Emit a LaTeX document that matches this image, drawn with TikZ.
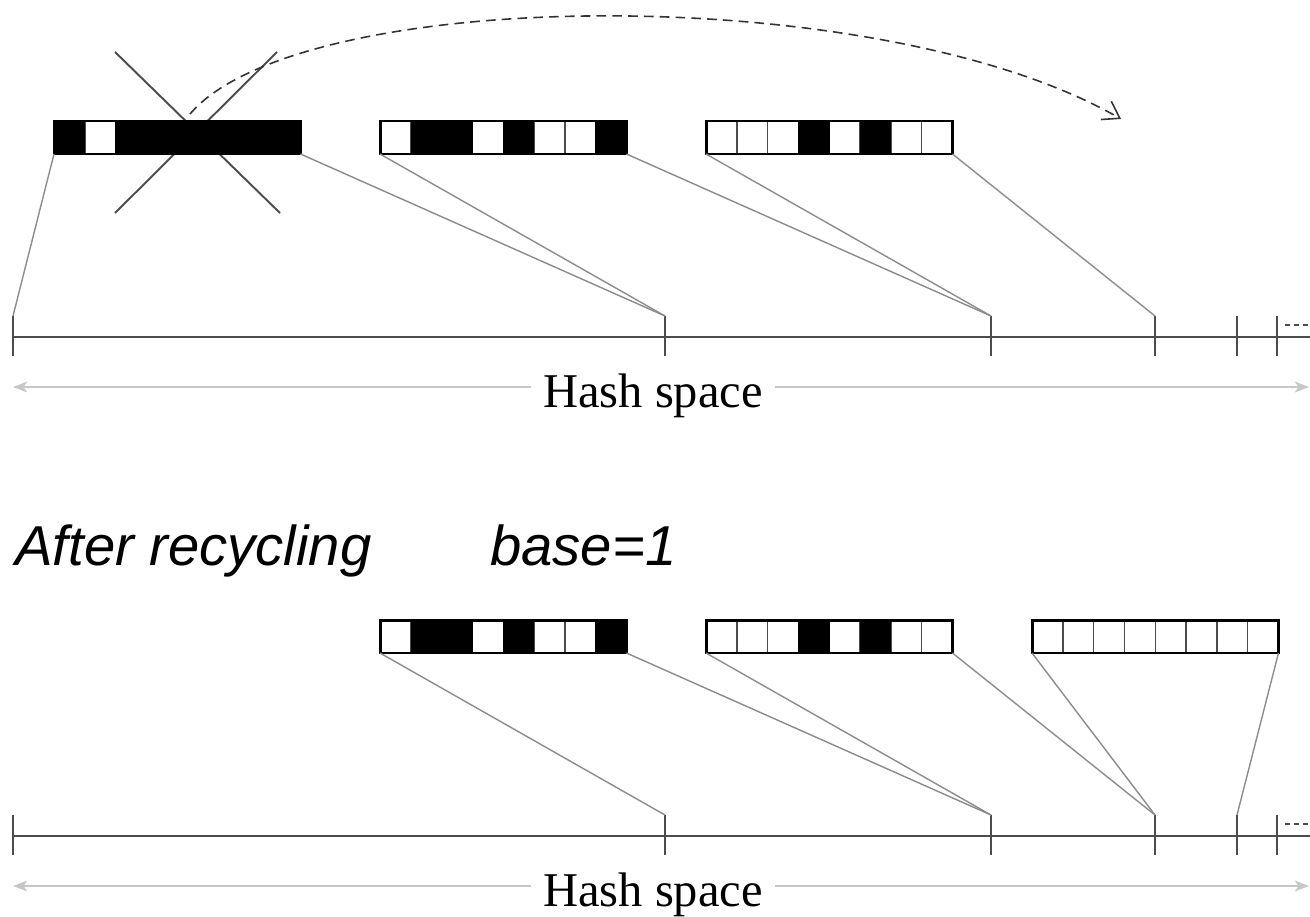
\documentclass[tikz,border=0pt]{standalone}
\usepackage{fontspec}
\setmainfont{Liberation Serif}
\setsansfont{Liberation Sans}
\usetikzlibrary{arrows.meta}

\tikzset{
  cellbox/.style={draw=black!70, line width=0.8pt},
  bitframe/.style={draw=black, line width=1.7pt, inner sep=0pt, outer sep=0pt,
                   minimum width=4.93cm, minimum height=0.66cm},
  link/.style={draw=black!45, line width=0.8pt},
  hashaxis/.style={draw=black!70, line width=1.1pt},
  tickmark/.style={draw=black!70, line width=1.1pt},
  moredots/.style={draw=black!70, line width=1.1pt, dash pattern=on 3pt off 2pt},
  spanarrow/.style={draw=black!22, line width=1.4pt,
                    {Stealth[length=8pt,width=6pt,inset=2pt]}-{Stealth[length=8pt,width=6pt,inset=2pt]}},
  spantext/.style={font=\fontsize{27.6}{30}\selectfont, fill=white, inner xsep=7pt, inner ysep=0pt, anchor=base},
  headtext/.style={font=\sffamily\itshape\fontsize{32}{36}\selectfont, inner sep=0pt, anchor=base west},
  strike/.style={draw=black!70, line width=1.1pt},
  moveline/.style={draw=black!80, line width=0.9pt, dash pattern=on 5.5pt off 3.5pt,
                   -{Straight Barb[length=9pt,width=12pt]}},
}

% one bloom-filter bitmap: node name, left x, top y, cell pattern (1 = set)
\newcommand\bitmap[4]{%
  \foreach \v [count=\i from 0] in {#4} {
    \draw[cellbox] ({#2+\i*30.8},#3) rectangle ++(30.8,33);
  }
  \foreach \v [count=\i from 0] in {#4} {
    \ifnum\v=1 \fill[black] ({#2+\i*30.8-0.3},#3) rectangle ++(31.4,33); \fi
  }
  \node[bitframe, anchor=north west] (#1) at (#2,#3) {};
}

\begin{document}
\begin{tikzpicture}[x=0.02cm, y=-0.02cm]
\useasboundingbox (0,0) rectangle (1310,916);

% ---------- before recycling ----------
% the discarded filter is crossed out (cross drawn beneath it)
\coordinate (xa) at (115,52);
\coordinate (xb) at (280,213);
\coordinate (xc) at (115,213);
\coordinate (xd) at (277,52);
\draw[strike] (xa) -- (xb);
\draw[strike] (xc) -- (xd);

\bitmap{bA}{54}{121}{1,0,1,1,1,1,1,1}
\bitmap{bB}{380}{121}{0,1,1,0,1,0,0,1}
\bitmap{bC}{706}{121}{0,0,0,1,0,1,0,0}

% it moves to the free end
\coordinate (mvfrom) at (190,114);
\coordinate (mvto) at (1121,119);
\draw[moveline] (mvfrom) .. controls (300,-15) and (880,-20) .. (mvto);

% hash space axis with its tick marks
\draw[hashaxis] (13,337) -- (1310,337);
\foreach \n/\x in {0/13,1/665,2/991,3/1155,4/1237,5/1277} {
  \coordinate (ta\n) at (\x,316);
  \draw[tickmark] (ta\n) -- (\x,356);
}
\draw[moredots] (1285,325) -- (1310,325);

\draw[link] (bA.south west) -- (ta0);
\draw[link] (bA.south east) -- (ta1);
\draw[link] (bB.south west) -- (ta1);
\draw[link] (bB.south east) -- (ta2);
\draw[link] (bC.south west) -- (ta2);
\draw[link] (bC.south east) -- (ta3);

\coordinate (sa0) at (13,387);
\coordinate (sa1) at (1309,387);
\draw[spanarrow] (sa0) -- (sa1);
\node[spantext] (hsA) at (653,407) {Hash space};

% ---------- after recycling ----------
\node[headtext] (after) at (15,565) {After recycling};
\node[headtext] (base) at (490,565) {base=1};

\bitmap{cB}{380}{620}{0,1,1,0,1,0,0,1}
\bitmap{cC}{706}{620}{0,0,0,1,0,1,0,0}
\bitmap{cD}{1032}{620}{0,0,0,0,0,0,0,0}

\draw[hashaxis] (13,836) -- (1310,836);
\foreach \n/\x in {0/13,1/665,2/991,3/1155,4/1237,5/1277} {
  \coordinate (tb\n) at (\x,815);
  \draw[tickmark] (tb\n) -- (\x,855);
}
\draw[moredots] (1285,824) -- (1310,824);

\draw[link] (cB.south west) -- (tb1);
\draw[link] (cB.south east) -- (tb2);
\draw[link] (cC.south west) -- (tb2);
\draw[link] (cC.south east) -- (tb3);
\draw[link] (cD.south west) -- (tb3);
\draw[link] (cD.south east) -- (tb4);

\coordinate (sb0) at (13,886);
\coordinate (sb1) at (1309,886);
\draw[spanarrow] (sb0) -- (sb1);
\node[spantext] (hsB) at (653,906) {Hash space};
\end{tikzpicture}
\end{document}
